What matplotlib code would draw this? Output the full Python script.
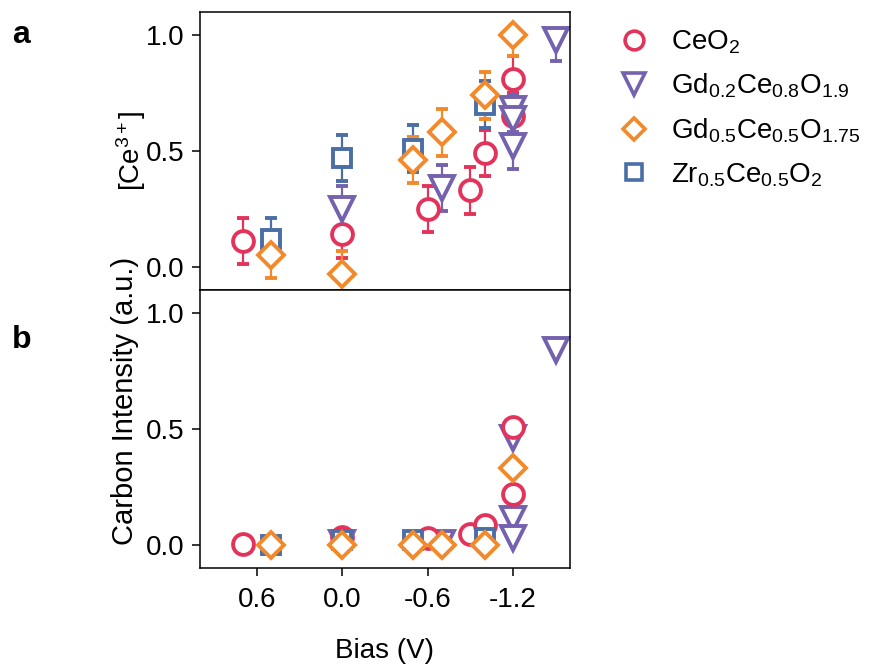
import matplotlib
matplotlib.use("Agg")
import matplotlib.pyplot as plt
from matplotlib.lines import Line2D

plt.rcParams["font.family"] = ["Liberation Sans", "DejaVu Sans"]
plt.rcParams["mathtext.fontset"] = "custom"
plt.rcParams["mathtext.rm"] = "Liberation Sans"
plt.rcParams["mathtext.it"] = "Liberation Sans"
plt.rcParams["axes.unicode_minus"] = False

# --- Data ---
labels = [r"CeO$_2$", r"Gd$_{0.2}$Ce$_{0.8}$O$_{1.9}$",
          r"Gd$_{0.5}$Ce$_{0.5}$O$_{1.75}$", r"Zr$_{0.5}$Ce$_{0.5}$O$_2$"]
colors = ["#e3335b", "#7462ae", "#f28a2b", "#4a6ea6"]
markers = ["o", "v", "D", "s"]
msizes = [15, 17, 13, 13]

ceo2_bias = [0.7, 0.0, -0.6, -0.9, -1.0, -1.2, -1.2]
ceo2_ce3 = [0.11, 0.14, 0.25, 0.33, 0.49, 0.81, 0.65]
ceo2_lo = [0.1, 0.1, 0.1, 0.1, 0.1, 0.1, 0.1]
ceo2_hi = [0.1, 0.1, 0.1, 0.1, 0.1, 0.1, 0.1]
ceo2_carbon = [0.005, 0.035, 0.03, 0.045, 0.085, 0.51, 0.22]

gdc20_bias = [0.0, -0.7, -1.2, -1.2, -1.2, -1.5]
gdc20_ce3 = [0.25, 0.34, 0.68, 0.64, 0.52, 0.98]
gdc20_lo = [0.1, 0.1, 0.1, 0.1, 0.1, 0.09]
gdc20_hi = [0.1, 0.1, 0.1, 0.1, 0.1, 0.02]
gdc20_carbon = [0.01, 0.01, 0.46, 0.11, 0.03, 0.84]

gdc50_bias = [0.5, 0.0, -0.5, -0.7, -1.0, -1.2]
gdc50_ce3 = [0.05, -0.03, 0.46, 0.58, 0.74, 1.0]
gdc50_lo = [0.1, 0.1, 0.1, 0.1, 0.1, 0.09]
gdc50_hi = [0.1, 0.1, 0.1, 0.1, 0.1, 0.02]
gdc50_carbon = [0.0, 0.0, 0.0, 0.0, 0.0, 0.33]

zrc_bias = [0.5, 0.0, -0.5, -1.0]
zrc_ce3 = [0.12, 0.47, 0.51, 0.70]
zrc_lo = [0.1, 0.1, 0.1, 0.1]
zrc_hi = [0.09, 0.1, 0.1, 0.1]
zrc_carbon = [0.0, 0.02, 0.02, 0.03]

series = [
    (ceo2_bias, ceo2_ce3, ceo2_lo, ceo2_hi, ceo2_carbon),
    (gdc20_bias, gdc20_ce3, gdc20_lo, gdc20_hi, gdc20_carbon),
    (gdc50_bias, gdc50_ce3, gdc50_lo, gdc50_hi, gdc50_carbon),
    (zrc_bias, zrc_ce3, zrc_lo, zrc_hi, zrc_carbon),
]
top_order = [0, 3, 1, 2]
bottom_order = [1, 0, 3, 2]

xticks = [0.6, 0.0, -0.6, -1.2]
yticks = [0.0, 0.5, 1.0]
fs = 20

# --- Figure ---
fig = plt.figure(figsize=(8.73, 6.64), dpi=100)
ax1 = fig.add_axes([0.229, 0.5633, 0.424, 0.4187])
ax2 = fig.add_axes([0.229, 0.1446, 0.424, 0.4187])

for i in top_order:
    bias, ce3, lo, hi, carbon = series[i]
    ax1.errorbar(bias, ce3, yerr=[lo, hi], fmt=markers[i], ms=msizes[i],
                 mfc="white", mec=colors[i], mew=2.8, ecolor=colors[i],
                 elinewidth=1.6, capsize=4.5, capthick=1.6)

for i in bottom_order:
    bias, ce3, lo, hi, carbon = series[i]
    ax2.plot(bias, carbon, markers[i], ms=msizes[i], mfc="white",
             mec=colors[i], mew=2.8, linestyle="none")

for ax in (ax1, ax2):
    ax.set_xlim(1.0, -1.6)
    ax.set_ylim(-0.1, 1.1)
    ax.set_yticks(yticks)
    ax.set_yticklabels([f"{v:.1f}" for v in yticks])
    for s in ax.spines.values():
        s.set_linewidth(1.1)
    ax.tick_params(axis="y", direction="out", length=6, width=1.1,
                   labelsize=fs, pad=5)

ax1.set_xticks([])
ax2.set_xticks(xticks)
ax2.set_xticklabels([f"{v:.1f}" for v in xticks])
ax2.tick_params(axis="x", direction="out", length=6, width=1.1,
                labelsize=fs, pad=8)

ax1.set_ylabel(r"[Ce$^{3+}$]", fontsize=fs)
ax1.yaxis.set_label_coords(-0.14, 0.5)
ax2.set_ylabel("Carbon Intensity (a.u.)", fontsize=21)
ax2.yaxis.set_label_coords(-0.165, 0.6)
ax2.set_xlabel("Bias (V)", fontsize=fs, labelpad=18)

fig.text(0.014, 0.947, "a", fontsize=23, fontweight="bold", va="center")
fig.text(0.014, 0.488, "b", fontsize=23, fontweight="bold", va="center")

handles = [Line2D([], [], marker=markers[i], ms=msizes[i] * 0.9, mfc="white",
                  mec=colors[i], mew=2.6, linestyle="none") for i in range(4)]
fig.legend(handles, labels, loc="upper left", bbox_to_anchor=(0.678, 0.995),
           frameon=False, fontsize=fs, handletextpad=0.75, labelspacing=0.58,
           handlelength=1.2)

fig.savefig("out.png", dpi=100)
